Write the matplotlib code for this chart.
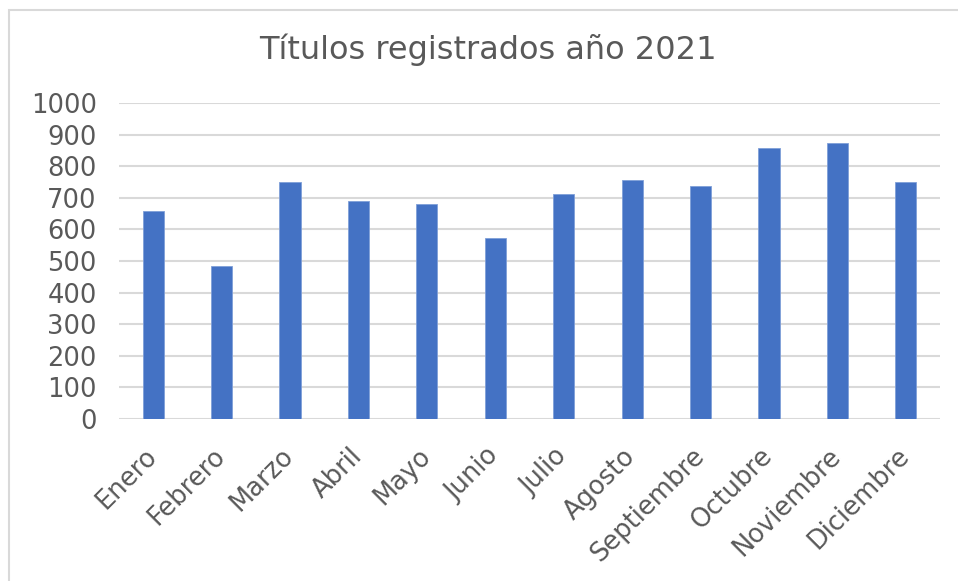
import matplotlib
matplotlib.use("Agg")
import matplotlib.pyplot as plt
from matplotlib.patches import Rectangle

plt.rcParams["font.family"] = ["DejaVu Sans"]

months = ["Enero", "Febrero", "Marzo", "Abril", "Mayo", "Junio", "Julio",
          "Agosto", "Septiembre", "Octubre", "Noviembre", "Diciembre"]
values = [657, 485, 749, 691, 681, 573, 712, 756, 736, 857, 873, 750]
yticks = [0, 100, 200, 300, 400, 500, 600, 700, 800, 900, 1000]
title = "Títulos registrados año 2021"

W, H = 958, 581
fig = plt.figure(figsize=(W / 100, H / 100), dpi=100)
fig.patch.set_facecolor("white")

# outer chart border (left/top visible)
fig.add_artist(Rectangle((9 / W, -0.1), 1.2, 1 - 10 / H + 0.1, transform=fig.transFigure,
                         fill=False, edgecolor="#D9D9D9", linewidth=1.5))

ax = fig.add_axes([119 / W, 1 - 419 / H, (940 - 119) / W, (419 - 103) / H])
x = list(range(len(months)))
ax.bar(x, values, width=0.31, color="#4472C4", edgecolor="#7F9FD8", linewidth=0.6, zorder=3)

ax.set_xlim(-0.5, len(months) - 0.5)
ax.set_ylim(0, 1000)
ax.set_yticks(yticks)
ax.set_yticklabels([str(t) for t in yticks])
ax.yaxis.grid(True, color="#D9D9D9", linewidth=1.5, zorder=0)
ax.set_axisbelow(True)
for s in ["top", "right", "left", "bottom"]:
    ax.spines[s].set_visible(False)
ax.tick_params(axis="both", length=0, labelcolor="#595959", labelsize=18.5)
ax.tick_params(axis="y", pad=16)
ax.set_xticks(x)
ax.set_xticklabels(months, rotation=45, ha="right", va="center", rotation_mode="anchor")
ax.tick_params(axis="x", pad=24)

fig.text(488 / W, 1 - 50 / H, title, ha="center", va="center", fontsize=23, color="#595959")

fig.savefig("out.png", dpi=100)
